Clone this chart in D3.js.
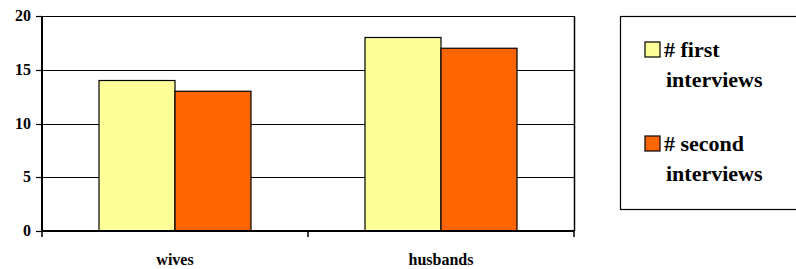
<!DOCTYPE html>
<html><head><script src="https://cdn.jsdelivr.net/npm/d3@7"></script></head>
<body style="margin:0">
<script>
// data
var categories = ["wives", "husbands"];
var seriesNames = ["# first interviews", "# second interviews"];
var firstInterviews = [14, 18];
var secondInterviews = [13, 17];
var yTicks = [0, 5, 10, 15, 20];
var colors = ["#FFFF99", "#FF6600"];

var W = 796, H = 269;
var margin = {top: 16, left: 42, right: 222, bottom: 38};
var w = W - margin.left - margin.right;
var h = H - margin.top - margin.bottom;

var svg = d3.select("body").append("svg").attr("width", W).attr("height", H);
var g = svg.append("g")
  .attr("transform", "translate(" + margin.left + "," + margin.top + ")");

var x0 = d3.scaleBand().domain(categories).range([0, w]);
var x1 = d3.scaleBand().domain(d3.range(seriesNames.length))
  .range([0, x0.bandwidth()]).paddingOuter(0.75);
var y = d3.scaleLinear().domain([0, 20]).range([h, 0]);

// gridlines
g.selectAll("line.grid").data(yTicks.slice(1)).enter().append("line")
  .attr("x1", 0).attr("x2", w)
  .attr("y1", function(d) { return Math.round(y(d)) + 0.5; })
  .attr("y2", function(d) { return Math.round(y(d)) + 0.5; })
  .attr("stroke", "#000").attr("stroke-width", 1.2);
g.append("line").attr("x1", w + 0.5).attr("x2", w + 0.5).attr("y1", 0).attr("y2", h)
  .attr("stroke", "#000").attr("stroke-width", 1.5);

// bars
var rows = categories.map(function(c, i) { return [firstInterviews[i], secondInterviews[i]]; });
g.selectAll("g.cat").data(rows).enter().append("g")
  .attr("transform", function(d, i) { return "translate(" + x0(categories[i]) + ",0)"; })
  .selectAll("rect").data(function(d) { return d; }).enter().append("rect")
  .attr("x", function(d, j) { return x1(j); })
  .attr("y", function(d) { return y(d); })
  .attr("width", x1.bandwidth())
  .attr("height", function(d) { return h - y(d); })
  .attr("fill", function(d, j) { return colors[j]; })
  .attr("stroke", "#000").attr("stroke-width", 1.2);

// y axis (drawn by hand so text carries its own font)
g.append("line").attr("x1", 0).attr("x2", 0).attr("y1", 0).attr("y2", h)
  .attr("stroke", "#000").attr("stroke-width", 2);
g.selectAll("line.yt").data(yTicks).enter().append("line")
  .attr("x1", -6).attr("x2", 0)
  .attr("y1", function(d) { return Math.round(y(d)) + 0.5; })
  .attr("y2", function(d) { return Math.round(y(d)) + 0.5; })
  .attr("stroke", "#000").attr("stroke-width", 1.2);
g.selectAll("text.yl").data(yTicks).enter().append("text")
  .attr("x", -11).attr("y", function(d) { return y(d) + 5; })
  .attr("text-anchor", "end")
  .attr("font-family", function() { return "Liberation Serif"; })
  .attr("font-weight", "bold").attr("font-size", 16)
  .text(function(d) { return d; });

// x axis
g.append("line").attr("x1", 0).attr("x2", w).attr("y1", h).attr("y2", h)
  .attr("stroke", "#000").attr("stroke-width", 2);
var bounds = [0].concat(categories.map(function(c) { return x0(c) + x0.bandwidth(); }));
g.selectAll("line.xt").data(bounds).enter().append("line")
  .attr("x1", function(d) { return d; }).attr("x2", function(d) { return d; })
  .attr("y1", h).attr("y2", h + 6).attr("stroke", "#000").attr("stroke-width", 1.5);
g.selectAll("text.xl").data(categories).enter().append("text")
  .attr("x", function(d) { return x0(d) + x0.bandwidth() / 2; })
  .attr("y", h + 34).attr("text-anchor", "middle")
  .attr("font-family", function() { return "Liberation Serif"; })
  .attr("font-weight", "bold").attr("font-size", 16)
  .text(function(d) { return d; });

// legend
svg.append("rect").attr("x", 620.5).attr("y", 16.5).attr("width", 180).attr("height", 193)
  .attr("fill", "#fff").attr("stroke", "#000").attr("stroke-width", 1.2);
var legY = [42, 136];
svg.selectAll("rect.sw").data(seriesNames).enter().append("rect")
  .attr("x", 645).attr("y", function(d, i) { return legY[i]; })
  .attr("width", 15).attr("height", 15)
  .attr("fill", function(d, i) { return colors[i]; })
  .attr("stroke", "#000").attr("stroke-width", 1.2);
var lines = [];
seriesNames.forEach(function(s, i) {
  var p = s.split(" ");
  lines.push({t: p[0] + " " + p[1], x: 664, y: legY[i] + 15});
  lines.push({t: p[2], x: 666, y: legY[i] + 45});
});
svg.selectAll("text.lg").data(lines).enter().append("text")
  .attr("x", function(d) { return d.x; }).attr("y", function(d) { return d.y; })
  .attr("font-family", function() { return "Liberation Serif"; })
  .attr("font-weight", "bold").attr("font-size", 22)
  .text(function(d) { return d.t; });
</script></body></html>
